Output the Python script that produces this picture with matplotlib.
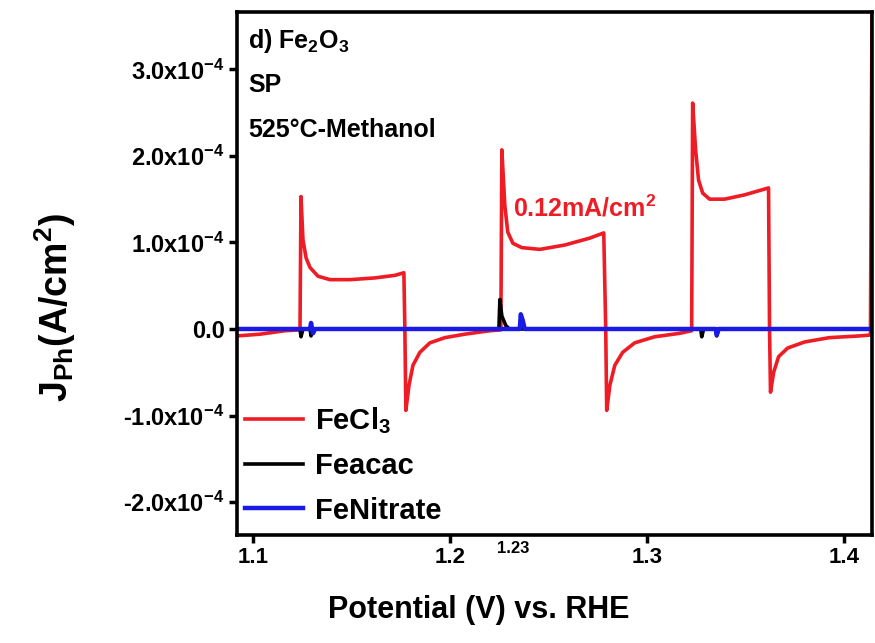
import matplotlib
matplotlib.use("Agg")
from matplotlib import pyplot as plt
from matplotlib import transforms

plt.rcParams["font.family"] = ["Liberation Sans", "DejaVu Sans"]
plt.rcParams["font.weight"] = "bold"
plt.rcParams["axes.labelweight"] = "bold"
plt.rcParams["mathtext.fontset"] = "custom"
plt.rcParams["mathtext.rm"] = "Liberation Sans:bold"
plt.rcParams["mathtext.it"] = "Liberation Sans:bold"
plt.rcParams["mathtext.bf"] = "Liberation Sans:bold"
plt.rcParams["mathtext.default"] = "rm"

# chopped-light photocurrent traces, J in units of 1e-4 A/cm^2
fecl3_v = [1.0919, 1.1035, 1.1162, 1.1233, 1.1238, 1.1243, 1.1253, 1.1269, 1.1289, 1.1329,
           1.1390, 1.1492, 1.1618, 1.1720, 1.1765, 1.1770, 1.1775, 1.1791, 1.1811, 1.1846,
           1.1897, 1.1973, 1.2074, 1.2201, 1.2257, 1.2262, 1.2277, 1.2292, 1.2318, 1.2363,
           1.2455, 1.2581, 1.2708, 1.2779, 1.2789, 1.2794, 1.2810, 1.2835, 1.2875, 1.2936,
           1.3037, 1.3164, 1.3225, 1.3230, 1.3245, 1.3260, 1.3281, 1.3316, 1.3392, 1.3494,
           1.3615, 1.3620, 1.3625, 1.3641, 1.3666, 1.3712, 1.3798, 1.3924, 1.4077, 1.4132,
           1.4140]
fecl3_j = [-0.08, -0.06, -0.02, -0.01, 0.00, 1.53, 1.03, 0.82, 0.71, 0.61,
           0.57, 0.57, 0.59, 0.62, 0.65, 0.00, -0.94, -0.65, -0.42, -0.27,
           -0.16, -0.10, -0.06, -0.02, -0.01, 2.07, 1.43, 1.12, 0.99, 0.94,
           0.92, 0.97, 1.05, 1.11, 0.00, -0.94, -0.65, -0.42, -0.27, -0.16,
           -0.09, -0.05, -0.02, 2.61, 2.07, 1.72, 1.57, 1.50, 1.50, 1.55,
           1.63, 0.00, -0.73, -0.50, -0.32, -0.22, -0.15, -0.10, -0.08, -0.07,
           3.80]

feacac_v = [1.0919, 1.1238, 1.1243, 1.1253, 1.1289, 1.1294, 1.1299, 1.2247, 1.2252, 1.2262,
            1.2282, 1.2300, 1.3271, 1.3276, 1.3286, 1.3347, 1.3352, 1.3362, 1.4140]
feacac_j = [0.00, 0.00, -0.09, 0.00, 0.00, -0.08, 0.00, 0.00, 0.34, 0.15,
            0.04, 0.00, 0.00, -0.09, 0.00, 0.00, -0.08, 0.00, 0.00]

fenitrate_v = [1.0919, 1.1289, 1.1294, 1.1304, 1.1314, 1.2353, 1.2358, 1.2368, 1.2378, 1.3347,
               1.3352, 1.3362, 1.4140]
fenitrate_j = [0.00, 0.00, 0.07, -0.05, 0.00, 0.00, 0.17, 0.10, 0.00, 0.00,
               -0.07, 0.00, 0.00]

x_ticks = [1.1, 1.2, 1.3, 1.4]
y_ticks = [-2, -1, 0, 1, 2, 3]
y_tick_labels = [r"-2.0x10$^{-4}$", r"-1.0x10$^{-4}$", "0.0",
                 r"1.0x10$^{-4}$", r"2.0x10$^{-4}$", r"3.0x10$^{-4}$"]
scale = 1e-4

fig = plt.figure(figsize=(8.75, 6.43), dpi=100)
ax = fig.add_axes([0.271, 0.168, 0.7256, 0.813])

ax.plot(fecl3_v, [j * scale for j in fecl3_j], color="#ee1c25", lw=2.6, label=r"FeCl$_3$")
ax.plot(feacac_v, [j * scale for j in feacac_j], color="black", lw=2.6, label="Feacac")
ax.plot(fenitrate_v, [j * scale for j in fenitrate_j], color="#1a1ae6", lw=3.2, label="FeNitrate")

ax.set_xlim(1.0919, 1.4140)
ax.set_ylim(-2.38e-4, 3.66e-4)
ax.set_xticks(x_ticks)
ax.set_xticklabels([str(t) for t in x_ticks], fontsize=16)
ax.set_yticks([t * scale for t in y_ticks])
ax.set_yticklabels(y_tick_labels, fontsize=17)
ax.tick_params(axis="both", direction="out", length=6, width=2.5, pad=3)
for s in ax.spines.values():
    s.set_linewidth(2.6)

# extra label marking 1.23 V
trans = transforms.blended_transform_factory(ax.transData, ax.transAxes)
ax.text(1.2318, -0.025, "1.23", transform=trans, ha="center", va="center", fontsize=12)

ax.set_xlabel("Potential (V) vs. RHE", fontsize=22)
ax.xaxis.set_label_coords(0.38, -0.115)
ax.set_ylabel(r"J$_{Ph}$(A/cm$^2$)", fontsize=27)
ax.yaxis.set_label_coords(-0.25, 0.434)

ax.text(0.017, 0.944, r"d) Fe$_2$O$_3$", transform=ax.transAxes, fontsize=18, va="center")
ax.text(0.017, 0.860, "SP", transform=ax.transAxes, fontsize=18, va="center")
ax.text(0.017, 0.774, "525\u00b0C-Methanol", transform=ax.transAxes, fontsize=18, va="center")
ax.text(1.2318, 1.40e-4, r"0.12mA/cm$^2$", color="#ee1c25", fontsize=18, va="center")

ax.legend(loc="lower left", bbox_to_anchor=(0.0126, 0.02), frameon=False,
          prop={"weight": "bold", "size": 21},
          handlelength=2.0, handletextpad=0.4, labelspacing=0.55, borderpad=0,
          borderaxespad=0)

fig.savefig("out.png", dpi=100)
